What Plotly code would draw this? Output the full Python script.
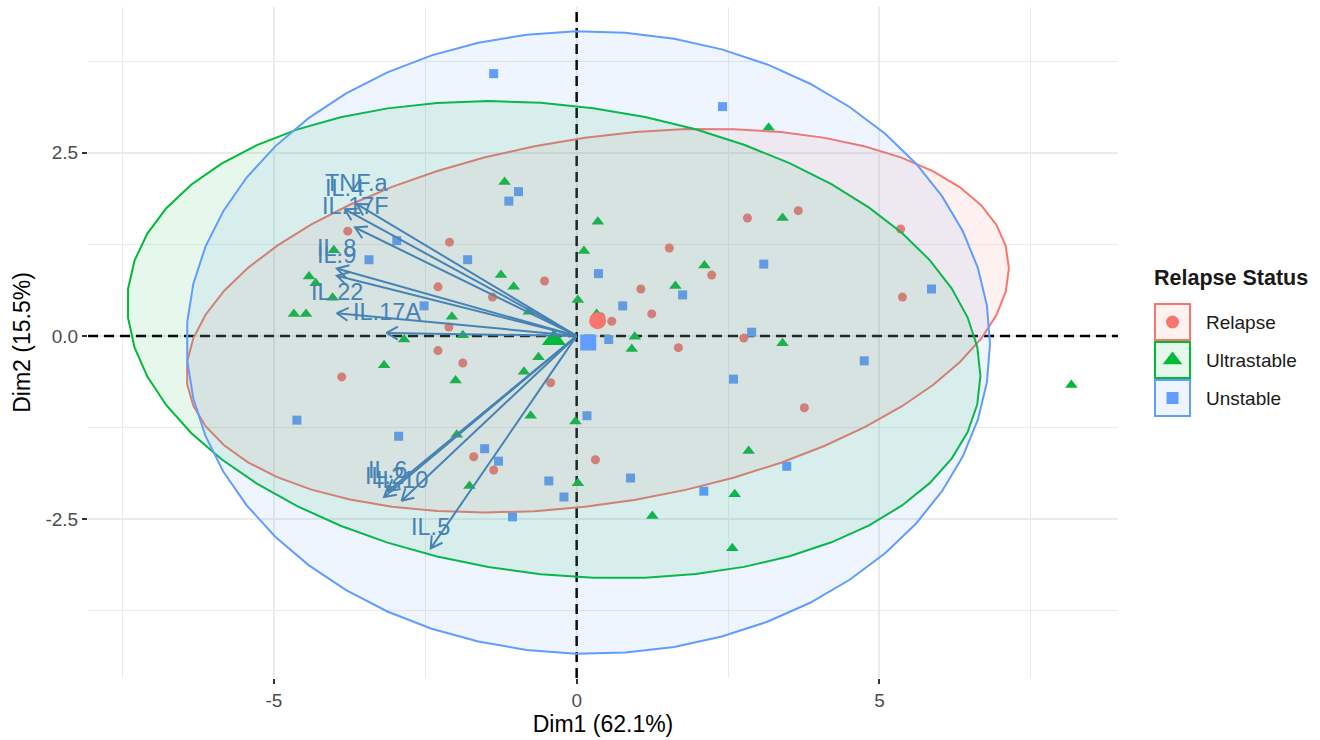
import numpy as np
import plotly.graph_objects as go

# ---- individuals: PCA coordinates (Dim1, Dim2) by relapse status ----
relapse_x = [-3.78, -2.10, -2.29, -1.39, -0.53, -2.11, -2.29, -1.88, -3.88, -0.43,
             -1.70, -1.37, 0.31, 2.82, 3.66, 5.35, 1.53, 2.23, 1.06, 1.24,
             0.58, 0.40, 5.38, 2.76, 1.68, 3.76]
relapse_y = [1.43, 1.28, 0.67, 0.53, 0.75, 0.12, -0.20, -0.37, -0.56, -0.64,
             -1.65, -1.83, -1.69, 1.61, 1.71, 1.46, 1.20, 0.83, 0.64, 0.30,
             0.20, 0.26, 0.53, -0.03, -0.16, -0.98]

ultra_x = [-1.19, -4.01, -4.42, -4.31, -4.03, -4.67, -4.47, -1.25, -1.04, -2.06,
           0.02, 0.12, 0.35, -2.85, -1.88, -0.63, -0.79, 3.17, 3.40, 2.11,
           1.63, 0.33, 0.96, 0.91, 3.40, -3.18, -2.00, -0.87, -0.76, -0.02,
           -1.98, -1.77, 0.02, 2.84, 2.61, 1.25, 2.57, 8.17]
ultra_y = [2.10, 1.17, 0.81, 0.72, 0.52, 0.30, 0.30, 0.83, 0.67, 0.26,
           0.49, 1.16, 1.56, -0.05, 0.01, -0.29, 0.33, 2.84, 1.61, 0.96,
           0.68, 0.30, -0.01, -0.18, -0.10, -0.40, -0.61, -0.49, -1.09, -1.17,
           -1.35, -2.05, -2.01, -1.57, -2.16, -2.46, -2.90, -0.67]

unstable_x = [-1.37, 2.41, -0.96, -1.12, -2.97, -3.43, -1.80, 0.36, -2.52, 3.09,
              5.86, 1.75, 0.76, 2.89, 0.53, 4.75, -4.62, -2.94, -1.52, -1.29,
              -0.46, -0.21, -1.06, 0.17, 2.59, 3.47, 0.89, 2.10]
unstable_y = [3.58, 3.13, 1.97, 1.84, 1.30, 1.04, 1.04, 0.85, 0.41, 0.98,
              0.64, 0.56, 0.41, 0.05, -0.05, -0.34, -1.15, -1.37, -1.54, -1.71,
              -1.98, -2.20, -2.47, -1.09, -0.59, -1.78, -1.94, -2.12]

group_names = ["Relapse", "Ultrastable", "Unstable"]

# ---- variables: loadings (arrow tips) ----
var_names = ["TNF.a", "IL.4", "IL.17F", "IL.8", "IL.9", "IL.22", "IL.17A",
             "IL.6", "IL.2", "IL.10", "IL.5"]
var_x = [-3.63, -3.83, -3.66, -3.96, -3.96, -3.96, -3.14, -3.12, -3.18, -2.89, -2.41]
var_y = [1.80, 1.73, 1.48, 0.92, 0.82, 0.31, 0.04, -2.12, -2.20, -2.25, -2.90]

# ---- axis ticks ----
x_tickvals = [-5, 0, 5]
x_ticktext = ["-5", "0", "5"]
y_tickvals = [-2.5, 0.0, 2.5]
y_ticktext = ["-2.5", "0.0", "2.5"]

# ---- styling / geometry ----
W, H = 1320, 740
ML, MR, MT, MB = 88, 0, 7, 62
PANEL_RIGHT = 1118
X_RANGE = [-8.07, 8.94]
Y_RANGE = [-4.67, 4.49]
FONT = "Liberation Sans, Arial, Helvetica, sans-serif"
COLORS = ["#F8766D", "#00BA38", "#619CFF"]
FILLS = ["rgba(248,118,109,0.10)", "rgba(0,186,56,0.10)", "rgba(97,156,255,0.10)"]
SYMBOLS = ["circle", "triangle-up", "square"]
PT_SIZES = [9, 11, 9]
MEAN_SIZES = [17, 21, 16]
STEEL = "#4682B4"

plot_w = W - ML - MR
plot_h = H - MT - MB
panel_w = PANEL_RIGHT - ML
x_dom_end = panel_w / plot_w
sx = panel_w / (X_RANGE[1] - X_RANGE[0])   # px per unit along Dim1
sy = plot_h / (Y_RANGE[1] - Y_RANGE[0])    # px per unit along Dim2


def conf_ellipse(x, y, level=0.95, segments=51):
    """Normal-theory confidence ellipse (as in stat_ellipse type='norm')."""
    pts = np.column_stack([x, y])
    n = len(pts)
    center = pts.mean(axis=0)
    cov = np.cov(pts.T)
    d = n - 1
    fq = (d / 2.0) * ((1 - level) ** (-2.0 / d) - 1)  # F(2, d) quantile
    radius = np.sqrt(2 * fq)
    t = np.linspace(0, 2 * np.pi, segments + 1)
    circle = np.column_stack([np.cos(t), np.sin(t)])
    chol = np.linalg.cholesky(cov).T
    e = center + radius * circle @ chol
    return e[:, 0], e[:, 1]


groups = [(relapse_x, relapse_y), (ultra_x, ultra_y), (unstable_x, unstable_y)]

fig = go.Figure()

# dashed reference lines through the origin
REF_LINE = dict(color="black", width=2.5, dash="10px,6px")
fig.add_trace(go.Scatter(x=[0, 0], y=Y_RANGE, mode="lines", line=REF_LINE,
                         showlegend=False, hoverinfo="skip"))
fig.add_trace(go.Scatter(x=X_RANGE, y=[0, 0], mode="lines", line=REF_LINE,
                         showlegend=False, hoverinfo="skip"))

# individual points
for (gx, gy), name, col, sym, sz in zip(groups, group_names, COLORS, SYMBOLS, PT_SIZES):
    fig.add_trace(go.Scatter(
        x=gx, y=gy, mode="markers", name=name, showlegend=False,
        marker=dict(symbol=sym, size=sz, color=col, line=dict(width=0)),
    ))

# concentration ellipses
for (gx, gy), name, col, fill in zip(groups, group_names, COLORS, FILLS):
    ex, ey = conf_ellipse(gx, gy)
    fig.add_trace(go.Scatter(
        x=ex, y=ey, mode="lines", fill="toself", fillcolor=fill,
        line=dict(color=col, width=2), showlegend=False, hoverinfo="skip",
    ))

# group mean points
for (gx, gy), name, col, sym, sz in zip(groups, group_names, COLORS, SYMBOLS, MEAN_SIZES):
    fig.add_trace(go.Scatter(
        x=[float(np.mean(gx))], y=[float(np.mean(gy))], mode="markers",
        showlegend=False, marker=dict(symbol=sym, size=sz, color=col, line=dict(width=0)),
    ))

# variable arrows with open heads
HEAD_LEN = 13.0
HEAD_ANG = np.deg2rad(30)
ax_pts, ay_pts = [], []
for tx, ty in zip(var_x, var_y):
    ax_pts += [0, tx, None]
    ay_pts += [0, ty, None]
    dx, dy = tx * sx, ty * sy
    L = np.hypot(dx, dy)
    ux, uy = dx / L, dy / L
    wing = []
    for a in (HEAD_ANG, -HEAD_ANG):
        rx = ux * np.cos(a) - uy * np.sin(a)
        ry = ux * np.sin(a) + uy * np.cos(a)
        wing.append((tx - HEAD_LEN * rx / sx, ty - HEAD_LEN * ry / sy))
    ax_pts += [wing[0][0], tx, wing[1][0], None]
    ay_pts += [wing[0][1], ty, wing[1][1], None]

fig.add_trace(go.Scatter(
    x=ax_pts, y=ay_pts, mode="lines", showlegend=False, hoverinfo="skip",
    line=dict(color=STEEL, width=2),
))

annotations = []
for name, tx, ty in zip(var_names, var_x, var_y):
    annotations.append(dict(
        x=tx, y=ty, xref="x", yref="y", text=name, showarrow=False,
        yshift=21, font=dict(family=FONT, size=23.5, color=STEEL),
    ))

shapes = []

# ---- legend (drawn on a pixel-unit overlay axis) ----
LEG_BOX_X = (1155, 1190)
LEG_ROWS = [(304, 340), (342, 378), (380, 416)]
LEG_SYM_SIZES = [13, 17, 12]
for (y0, y1), col, fill in zip(LEG_ROWS, COLORS, FILLS):
    shapes.append(dict(type="rect", xref="x2", yref="y2",
                       x0=LEG_BOX_X[0], x1=LEG_BOX_X[1], y0=y0, y1=y1,
                       line=dict(color=col, width=2), fillcolor=fill))
for (y0, y1), name, col, sym, sz in zip(LEG_ROWS, group_names, COLORS, SYMBOLS, LEG_SYM_SIZES):
    yc = (y0 + y1) / 2
    fig.add_trace(go.Scatter(
        x=[(LEG_BOX_X[0] + LEG_BOX_X[1]) / 2], y=[yc], xaxis="x2", yaxis="y2",
        mode="markers", showlegend=False, cliponaxis=False, hoverinfo="skip",
        marker=dict(symbol=sym, size=sz, color=col, line=dict(width=0)),
    ))
    annotations.append(dict(x=1204, y=yc, xref="x2", yref="y2", text=name,
                            showarrow=False, xanchor="left", yanchor="middle",
                            font=dict(family=FONT, size=19, color="#1a1a1a")))
annotations.append(dict(x=1152, y=278, xref="x2", yref="y2", text="<b>Relapse Status</b>",
                        showarrow=False, xanchor="left", yanchor="middle",
                        font=dict(family=FONT, size=21.5, color="#1a1a1a")))

GRID = "#EBEBEB"
fig.update_layout(
    width=W, height=H,
    margin=dict(l=ML, r=MR, t=MT, b=MB),
    paper_bgcolor="white", plot_bgcolor="white",
    font=dict(family=FONT, color="#4D4D4D"),
    showlegend=False,
    shapes=shapes,
    annotations=annotations,
    xaxis=dict(
        domain=[0, x_dom_end], range=X_RANGE, anchor="y",
        tickmode="array", tickvals=x_tickvals, ticktext=x_ticktext,
        ticks="outside", ticklen=5, tickwidth=2, tickcolor="#333333",
        tickfont=dict(family=FONT, size=19, color="#4D4D4D"),
        showgrid=True, gridcolor=GRID, gridwidth=1.5, zeroline=False,
        showline=False,
        minor=dict(tickmode="array", tickvals=[-7.5, -2.5, 2.5, 7.5],
                   showgrid=True, gridcolor=GRID, gridwidth=1, ticks=""),
        title=dict(text="Dim1 (62.1%)", standoff=6,
                   font=dict(family=FONT, size=23, color="black")),
    ),
    yaxis=dict(
        domain=[0, 1], range=Y_RANGE, anchor="x",
        tickmode="array", tickvals=y_tickvals, ticktext=y_ticktext,
        ticks="outside", ticklen=5, tickwidth=2, tickcolor="#333333",
        tickfont=dict(family=FONT, size=19, color="#4D4D4D"),
        showgrid=True, gridcolor=GRID, gridwidth=1.5, zeroline=False,
        showline=False,
        minor=dict(tickmode="array", tickvals=[-3.75, -1.25, 1.25, 3.75],
                   showgrid=True, gridcolor=GRID, gridwidth=1, ticks=""),
        title=dict(text="Dim2 (15.5%)", standoff=8,
                   font=dict(family=FONT, size=23, color="black")),
    ),
    xaxis2=dict(domain=[x_dom_end, 1], range=[PANEL_RIGHT, W], anchor="y2",
                visible=False, fixedrange=True),
    yaxis2=dict(domain=[0, 1], range=[H - MB, MT], anchor="x2",
                visible=False, fixedrange=True),
)

fig.write_html("out.html")
